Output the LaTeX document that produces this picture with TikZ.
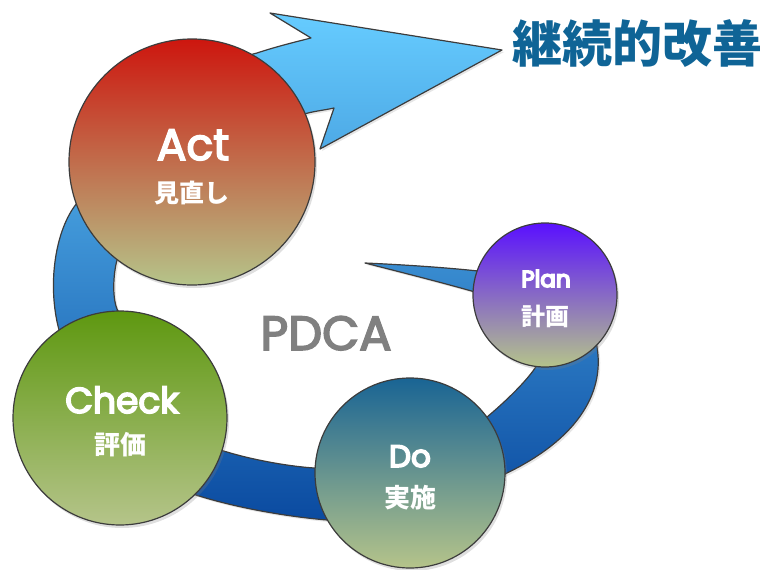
\documentclass[tikz,border=0pt]{standalone}
\usepackage{fontspec}
\usetikzlibrary{shadows}
\newfontfamily\latin{Poppins}
\newfontfamily\jp{Noto Sans CJK JP}
\newcommand\heavytext[1]{\special{pdf:literal direct 2 Tr 1.6 w}#1\special{pdf:literal direct 0 Tr}}
\definecolor{edgegray}{RGB}{60,60,60}
\definecolor{bandtop}{RGB}{102,204,255}
\definecolor{bandmid}{RGB}{62,146,218}
\definecolor{bandbot}{RGB}{10,74,160}
\definecolor{phasebot}{RGB}{181,196,138}
\definecolor{acttop}{RGB}{205,22,14}
\definecolor{checktop}{RGB}{94,152,16}
\definecolor{dotop}{RGB}{25,100,148}
\definecolor{plantop}{RGB}{90,16,255}
\definecolor{titleblue}{RGB}{15,100,150}

\begin{document}
\begin{tikzpicture}[x=1pt, y=-1pt]
    % Stili
    \tikzset{
        band/.style={draw=edgegray, line width=1.2pt, line join=round, top color=bandtop, middle color=bandmid, bottom color=bandbot,
            drop shadow={shadow xshift=2pt, shadow yshift=-2pt, opacity=0.2}},
        phase/.style={circle, draw=edgegray, line width=1.2pt, bottom color=phasebot, inner sep=0pt,
            drop shadow={shadow xshift=2pt, shadow yshift=-3pt, opacity=0.25}},
        entxt/.style={anchor=base, text=white, inner sep=0pt},
        jptxt/.style={text=white, inner sep=0pt}
    }
    \useasboundingbox (0,0) rectangle (779,570);

    % Spirale e freccia
    \path[band] (365,263)
        .. controls (410,265) and (450,268) .. (478,271)
        .. controls (540,285) and (598,320) .. (597,347)
        .. controls (605,395) and (575,440) .. (507,473)
        .. controls (450,505) and (380,522) .. (327,520)
        .. controls (280,516) and (230,506) .. (196,495)
        .. controls (110,465) and (60,400) .. (59,330)
        .. controls (47,285) and (55,230) .. (77,203)
        .. controls (110,130) and (190,70) .. (257,53)
        .. controls (275,47) and (295,42) .. (311,38)
        -- (270,13) -- (502,50) -- (320,149) -- (334,108)
        .. controls (325,110) and (316,111) .. (308,113)
        .. controls (220,135) and (130,200) .. (117,260)
        .. controls (113,275) and (112,300) .. (118,311)
        .. controls (130,380) and (180,440) .. (227,452)
        .. controls (250,459) and (285,466) .. (314,468)
        .. controls (400,470) and (450,445) .. (487,417)
        .. controls (505,402) and (528,380) .. (537,365)
        .. controls (550,330) and (520,300) .. (475,292)
        .. controls (440,282) and (400,272) .. cycle;

    % Titolo e centro
    \node[text=titleblue, font=\jp\bfseries\fontsize{50}{50}\selectfont] (title) at (637,44) {継続的改善};
    \node[anchor=base, text=black!50, inner sep=0pt, font=\latin\fontsize{48}{48}\selectfont] (pdca) at (326,350) {\heavytext{PDCA}};

    % Fasi
    \node[phase, minimum size=246pt, top color=acttop] (act) at (192,162) {};
    \node[phase, minimum size=214pt, top color=checktop] (check) at (120,418) {};
    \node[phase, minimum size=190pt, top color=dotop] (do) at (410,473) {};
    \node[phase, minimum size=144pt, top color=plantop] (plan) at (545,295) {};

    % Testi
    \node[entxt, font=\latin\fontsize{44}{44}\selectfont] (actEn) at (193,160) {\heavytext{Act}};
    \node[jptxt, font=\jp\bfseries\fontsize{25}{25}\selectfont] (actJp) at (192,193) {見直し};
    \node[entxt, font=\latin\fontsize{36}{36}\selectfont] (checkEn) at (122,413) {\heavytext{Check}};
    \node[jptxt, font=\jp\bfseries\fontsize{26}{26}\selectfont] (checkJp) at (120,445) {評価};
    \node[entxt, font=\latin\fontsize{31}{31}\selectfont] (doEn) at (410,467) {\heavytext{Do}};
    \node[jptxt, font=\jp\bfseries\fontsize{26}{26}\selectfont] (doJp) at (410,498) {実施};
    \node[entxt, font=\latin\fontsize{23}{23}\selectfont] (planEn) at (546,287) {\heavytext{Plan}};
    \node[jptxt, font=\jp\bfseries\fontsize{24}{24}\selectfont] (planJp) at (545,316) {計画};
\end{tikzpicture}
\end{document}
